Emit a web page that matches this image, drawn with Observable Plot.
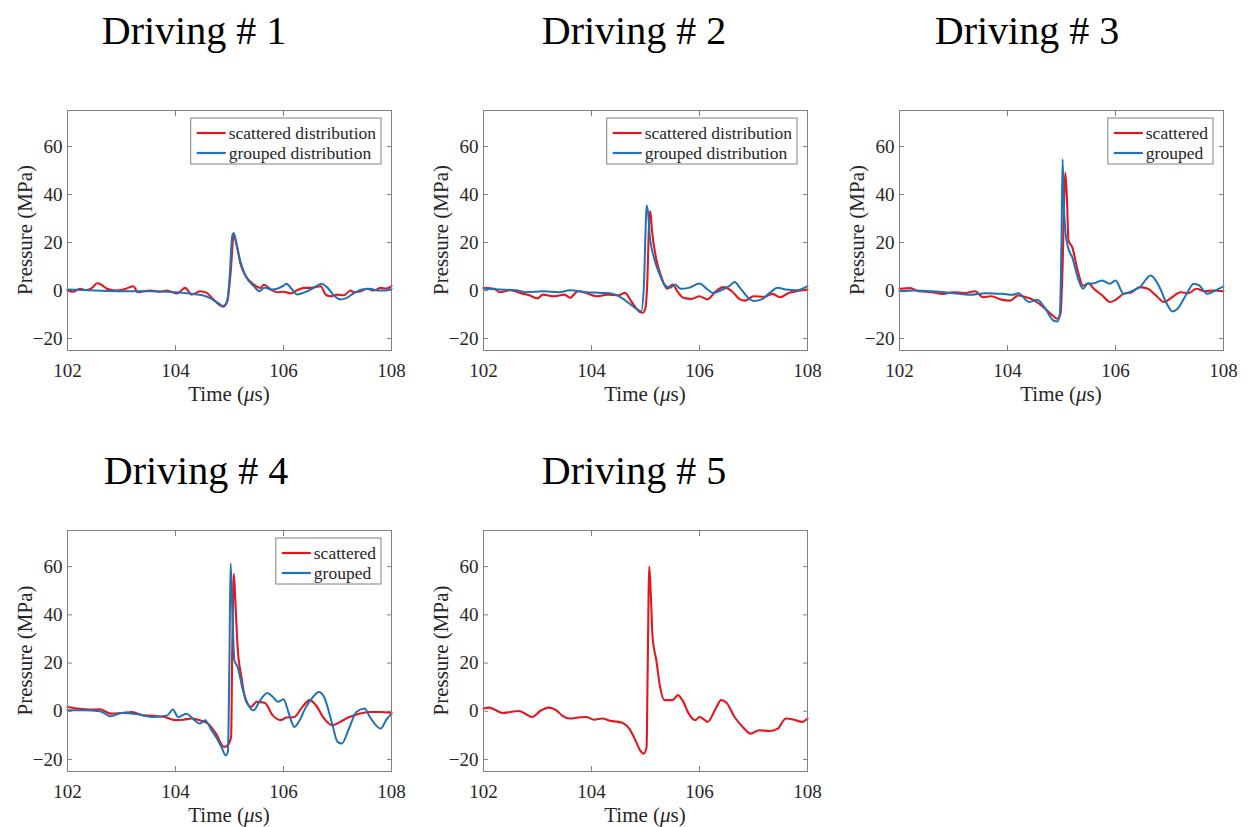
<!DOCTYPE html>
<html>
<head>
<meta charset="utf-8">
<script src="https://cdn.jsdelivr.net/npm/d3@7"></script>
<script src="https://cdn.jsdelivr.net/npm/@observablehq/plot@0.6"></script>
<style>
  body { margin: 0; background: #fff; }
  #root { position: relative; width: 1249px; height: 827px; overflow: hidden; background: #fff; }
  .panel { position: absolute; }
  #overlay { position: absolute; left: 0; top: 0; pointer-events: none; }
</style>
</head>
<body>
<div id="root"></div>
<script>
// ---------- data (time in µs, pressure in MPa) ----------
const timeTicks = [102, 104, 106, 108];
const pressureTicks = [-20, 0, 20, 40, 60];
const timeDomain = [102, 108];
const pressureDomain = [-25, 75];
const titles = ["Driving # 1", "Driving # 2", "Driving # 3", "Driving # 4", "Driving # 5"];
const legendLong = ["scattered distribution", "grouped distribution"];
const legendShort = ["scattered", "grouped"];

const d1Scattered = [[102,0],[102.1,-0.5],[102.23,0.7],[102.35,0.2],[102.45,1],[102.55,3],[102.62,2.5],[102.73,0.7],[102.9,0],[103.05,0.5],[103.22,1.8],[103.3,-0.7],[103.53,0],[103.72,-0.5],[103.84,0],[104.03,-1.2],[104.18,1.1],[104.3,-1.7],[104.46,-0.3],[104.58,-1],[104.7,-3.7],[104.8,-5.8],[104.88,-6.8],[104.96,-4.4],[105.02,7.3],[105.08,23.3],[105.14,18.4],[105.2,11.5],[105.3,6],[105.45,2.5],[105.57,1.1],[105.64,2.4],[105.76,0.4],[105.88,-0.7],[106.0,-0.5],[106.13,-1.2],[106.25,0.1],[106.38,1.1],[106.5,1.1],[106.69,1.8],[106.78,-1.7],[106.87,-2.4],[107.0,-1.7],[107.12,-2],[107.24,0],[107.3,-0.7],[107.43,-0.3],[107.55,0.7],[107.68,0],[107.8,1.1],[107.9,0.8],[108,1.8]];
const d1Grouped = [[102,0.4],[102.5,0],[103,-0.3],[103.5,-0.3],[104,-0.7],[104.3,-1.4],[104.5,-2],[104.65,-3.3],[104.8,-5.4],[104.88,-6.5],[104.95,-4.9],[105.0,4.6],[105.05,22.6],[105.08,24],[105.12,20],[105.2,12.2],[105.3,6],[105.45,1.8],[105.55,-0.3],[105.65,1.1],[105.8,0.4],[106.0,2],[106.05,2.8],[106.15,0.7],[106.25,-1.7],[106.4,-0.7],[106.55,1],[106.7,2.8],[106.8,1.5],[106.95,-2.4],[107.05,-3.7],[107.15,-3.3],[107.3,-1.2],[107.45,0.4],[107.6,0.7],[107.75,0],[107.9,0],[108,0.7]];

const d2Scattered = [[102,1.1],[102.2,0.7],[102.3,-0.7],[102.5,0.1],[102.7,-1.2],[102.85,-2],[103.0,-3.3],[103.1,-1.7],[103.3,-2.4],[103.5,-1.7],[103.6,-3],[103.75,-0.3],[103.9,-1],[104.1,-2.4],[104.3,-1.7],[104.5,-2],[104.62,-1],[104.75,-5],[104.9,-9],[104.95,-9.3],[105.0,-7.2],[105.03,1.8],[105.07,29.5],[105.09,33],[105.12,25],[105.2,13],[105.3,5.3],[105.4,0.7],[105.5,2.5],[105.6,-0.7],[105.7,-3],[105.85,-3.5],[106.0,-2.4],[106.15,-3.7],[106.3,-0.3],[106.45,1.4],[106.6,-0.3],[106.75,-3.7],[106.85,-4.2],[107.0,-2.4],[107.2,-2.6],[107.35,-1.4],[107.5,-2.8],[107.65,-1],[107.8,-0.3],[108,0.4]];
const d2Grouped = [[102,0.7],[102.3,0.4],[102.6,0.1],[102.8,-0.7],[103.1,-0.3],[103.4,-0.7],[103.6,0.1],[103.9,-0.7],[104.2,-1],[104.4,-1.4],[104.55,-3],[104.7,-5.4],[104.85,-7.9],[104.92,-8.6],[104.97,1.8],[105.0,24],[105.02,35.4],[105.05,32],[105.08,22.6],[105.15,14.3],[105.25,7.4],[105.35,2.5],[105.45,1.1],[105.55,2.5],[105.65,0.7],[105.8,1.1],[106.0,2.9],[106.15,0.4],[106.25,-1],[106.4,0.1],[106.55,1.8],[106.65,3.5],[106.75,1.1],[106.9,-3],[107.0,-4.4],[107.15,-3.7],[107.3,-1],[107.45,1.1],[107.6,0.4],[107.8,0.1],[108,1.8]];

const d3Scattered = [[102,0.7],[102.2,1],[102.35,-0.3],[102.6,-0.7],[102.8,-1.4],[103.0,-0.7],[103.2,-1.1],[103.4,-0.3],[103.55,-2.8],[103.7,-2.4],[103.9,-3.9],[104.05,-4.2],[104.2,-2.1],[104.35,-2.8],[104.5,-4.2],[104.65,-6.6],[104.8,-9.7],[104.93,-11.8],[104.98,-9.7],[105.02,9.7],[105.05,38],[105.07,49],[105.1,38.8],[105.13,20.8],[105.2,18],[105.3,8.3],[105.4,2],[105.5,3],[105.6,0.7],[105.75,-2],[105.9,-4.8],[106.0,-3.9],[106.15,-1.4],[106.3,-0.7],[106.45,1.4],[106.6,0.7],[106.75,-2.1],[106.9,-4.8],[107.05,-2.8],[107.2,-0.7],[107.35,-1.1],[107.5,0.7],[107.65,-0.3],[107.8,0],[108,-0.3]];
const d3Grouped = [[102,-0.3],[102.3,0],[102.6,-0.3],[103.0,-1.1],[103.3,-1.8],[103.6,-1.1],[103.9,-1.4],[104.1,-1.8],[104.2,-1.1],[104.4,-4.8],[104.55,-3.9],[104.7,-7.6],[104.85,-12.5],[104.92,-12.9],[104.97,-9.7],[105.0,20.8],[105.02,54.7],[105.04,37.4],[105.07,25],[105.12,18],[105.2,13.8],[105.3,5.5],[105.4,0.7],[105.48,2.8],[105.6,3],[105.75,4.2],[105.9,2.8],[106.0,4.2],[106.15,-1.4],[106.3,-0.3],[106.45,1.4],[106.65,6.2],[106.8,2.1],[106.95,-5.5],[107.05,-8.7],[107.15,-7.6],[107.3,-2.1],[107.45,2.8],[107.55,2.1],[107.7,-1.4],[107.85,0],[108,1.7]];

const d4Scattered = [[102,1.8],[102.2,1.1],[102.4,0.7],[102.6,0.8],[102.8,-1],[103.0,-0.7],[103.2,-0.3],[103.4,-1.7],[103.6,-1.9],[103.8,-2.4],[104.0,-3.7],[104.15,-3.5],[104.3,-3],[104.45,-3.7],[104.6,-5.1],[104.75,-9.3],[104.9,-14.8],[104.97,-14],[105.03,-10.6],[105.05,24],[105.08,57],[105.11,44.7],[105.15,26.7],[105.22,14.3],[105.3,4.6],[105.4,1.8],[105.5,3.9],[105.65,3.5],[105.8,-1.7],[105.95,-3.7],[106.05,-2.6],[106.2,-2.4],[106.35,1.8],[106.48,4.6],[106.6,2.5],[106.75,-3],[106.9,-5.8],[107.05,-4.4],[107.2,-2.6],[107.4,-1],[107.6,-0.3],[107.8,-0.3],[108,-0.7]];
const d4Grouped = [[102,0.4],[102.3,0.4],[102.6,0],[102.8,-2.1],[103.0,-0.7],[103.3,-1.2],[103.6,-2.4],[103.85,-1.7],[103.95,0.7],[104.05,-2.4],[104.2,-1],[104.35,-3.7],[104.45,-5.1],[104.55,-3.7],[104.65,-7.2],[104.75,-10.7],[104.85,-14.8],[104.93,-18.3],[104.97,-16.9],[105.0,24],[105.02,61.3],[105.05,43.3],[105.09,21.2],[105.15,18.4],[105.25,8.7],[105.35,2.5],[105.45,0.4],[105.55,3.9],[105.7,7.6],[105.8,6],[105.9,3.9],[106.0,5],[106.1,-1],[106.2,-6.5],[106.3,-3.7],[106.4,1.1],[106.55,6],[106.65,8],[106.75,6],[106.9,-5.1],[107.0,-12.7],[107.08,-13.4],[107.2,-7.9],[107.35,-0.3],[107.5,1.1],[107.6,-2.4],[107.8,-7.2],[107.9,-3.7],[108,-1]];

const d5Scattered = [[102,1.1],[102.1,1.5],[102.2,0.7],[102.35,-0.7],[102.5,-0.3],[102.65,0.1],[102.75,-0.7],[102.9,-2.4],[103.05,0.1],[103.2,1.5],[103.35,0.4],[103.45,-1.7],[103.6,-3],[103.75,-2.6],[103.9,-2.4],[104.05,-3.5],[104.2,-3],[104.35,-4],[104.5,-4.4],[104.6,-5.1],[104.7,-7.2],[104.8,-11.4],[104.9,-16.2],[104.97,-17.6],[105.02,-14.8],[105.04,17],[105.07,60],[105.1,47.6],[105.13,31],[105.2,21.2],[105.27,10.1],[105.35,4.6],[105.5,4.6],[105.6,6.7],[105.7,3.9],[105.8,-1],[105.92,-3.7],[106.0,-2.4],[106.1,-3.7],[106.15,-4.4],[106.3,1.1],[106.4,4.6],[106.5,3.5],[106.65,-2.4],[106.8,-6.5],[106.95,-9.3],[107.1,-7.9],[107.3,-8.2],[107.45,-7.2],[107.6,-3],[107.75,-3.5],[107.9,-4.4],[108,-3]];

// ---------- layout / style ----------
const RED = "#e3171d";
const BLUE = "#1f72b6";
const AXIS_GRAY = "#808080";
const TEXT = "#262626";
const FONT = "'Liberation Serif', 'Times New Roman', serif";

const panels = [
  {title: titles[0], left: 0,   top: 100, h: 310, titleX: 194,  titleY: 44,  series: [d1Scattered, d1Grouped], legend: legendLong},
  {title: titles[1], left: 416, top: 100, h: 310, titleX: 634,  titleY: 44,  series: [d2Scattered, d2Grouped], legend: legendLong},
  {title: titles[2], left: 832, top: 100, h: 310, titleX: 1027, titleY: 44,  series: [d3Scattered, d3Grouped], legend: legendShort},
  {title: titles[3], left: 0,   top: 520, h: 311, titleX: 196,  titleY: 484, series: [d4Scattered, d4Grouped], legend: legendShort},
  {title: titles[4], left: 416, top: 520, h: 311, titleX: 634,  titleY: 484, series: [d5Scattered], legend: null}
];
const colors = [RED, BLUE];
const W = 410, ML = 67, MR = 19, MT = 10, MB = 60;

const root = document.getElementById("root");

panels.forEach(p => {
  const marks = [
    Plot.axisX(timeTicks, {anchor: "bottom", tickSize: 0, tickPadding: 12.5, fontSize: 19, fill: TEXT}),
    Plot.axisX(timeTicks, {anchor: "bottom", tickSize: -5, text: null, stroke: AXIS_GRAY}),
    Plot.axisX(timeTicks, {anchor: "top", tickSize: -5, text: null, stroke: AXIS_GRAY}),
    Plot.axisY(pressureTicks, {anchor: "left", tickSize: 0, tickPadding: 5, fontSize: 19, fill: TEXT}),
    Plot.axisY(pressureTicks, {anchor: "left", tickSize: -5, text: null, stroke: AXIS_GRAY}),
    Plot.axisY(pressureTicks, {anchor: "right", tickSize: -5, text: null, stroke: AXIS_GRAY}),
    ...p.series.map((s, i) => Plot.line(s, {x: d => d[0], y: d => d[1], stroke: colors[i], strokeWidth: i === 0 ? 2.1 : 2, curve: "monotone-x"})),
    Plot.frame({stroke: AXIS_GRAY, strokeWidth: 1})
  ];
  const chart = Plot.plot({
    width: W, height: p.h,
    marginLeft: ML, marginRight: MR, marginTop: MT, marginBottom: MB,
    x: {domain: timeDomain, label: null},
    y: {domain: pressureDomain, label: null},
    style: {fontFamily: FONT, fontSize: "19px", color: TEXT, background: "transparent", overflow: "visible"},
    marks
  });
  chart.classList.add("panel");
  chart.style.left = p.left + "px";
  chart.style.top = p.top + "px";
  root.appendChild(chart);
});

// ---------- overlay: titles, axis labels, legends ----------
const overlay = d3.select(root).append("svg")
  .attr("id", "overlay").attr("width", 1249).attr("height", 827)
  .style("font-family", FONT);

panels.forEach(p => {
  const fL = p.left + ML, fR = p.left + W - MR, fT = p.top + MT, fB = p.top + p.h - MB;
  overlay.append("text").attr("x", p.titleX).attr("y", p.titleY)
    .attr("text-anchor", "middle").attr("font-size", 40).attr("fill", "#000").text(p.title);
  const xl = overlay.append("text").attr("x", (fL + fR) / 2).attr("y", fB + 51)
    .attr("text-anchor", "middle").attr("font-size", 21).attr("fill", TEXT);
  xl.append("tspan").text("Time (");
  xl.append("tspan").attr("font-style", "italic").text("\u03bc");
  xl.append("tspan").text("s)");
  overlay.append("text")
    .attr("transform", `translate(${fL - 35},${(fT + fB) / 2}) rotate(-90)`)
    .attr("text-anchor", "middle").attr("font-size", 21).attr("fill", TEXT)
    .text("Pressure (MPa)");

  if (p.legend) {
    const g = overlay.append("g");
    const rect = g.append("rect").attr("fill", "#fff").attr("stroke", AXIS_GRAY).attr("stroke-width", 1);
    const texts = p.legend.map((lab, i) => g.append("text")
      .attr("font-size", 17.5).attr("fill", TEXT).attr("y", fT + 23 + i * 20 + 6).text(lab));
    const tw = Math.max(...texts.map(t => t.node().getComputedTextLength()));
    const boxW = 6 + 29 + 3 + tw + 5;
    const bx = fR - 10 - boxW, by = fT + 8;
    rect.attr("x", bx).attr("y", by).attr("width", boxW).attr("height", 46);
    p.legend.forEach((lab, i) => {
      g.append("line").attr("x1", bx + 6).attr("x2", bx + 35)
        .attr("y1", by + 15 + i * 20).attr("y2", by + 15 + i * 20)
        .attr("stroke", colors[i]).attr("stroke-width", 2.2);
      texts[i].attr("x", bx + 38).attr("y", by + 15 + i * 20 + 6);
    });
  }
});
</script>
</body>
</html>
